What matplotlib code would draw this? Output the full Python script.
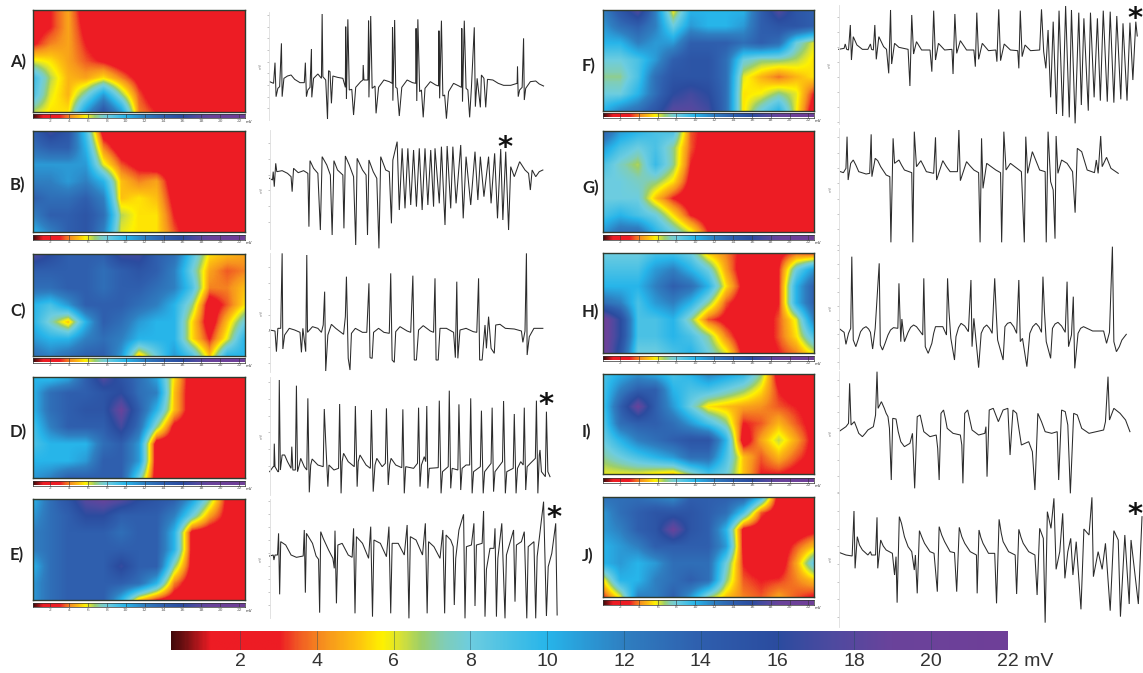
import numpy as np
import matplotlib
matplotlib.use('Agg')
import matplotlib.pyplot as plt
from matplotlib.colors import LinearSegmentedColormap

W, H = 1143, 673

# colour scale, mV -> colour
scale_mv = [0, 0.5, 1.2, 3.0, 3.5, 4.2, 5.0, 5.7, 6.2, 6.7, 7.3, 8.0, 10.0, 11.0, 12.0, 14.0, 16.0, 17.5, 19.0, 22.0]
scale_col = ['#2a0606', '#6e1012', '#ed1c24', '#ed1c24', '#f15a24', '#f7941e', '#fdc010', '#fff200', '#d4e03a',
             '#9ccf6a', '#80cdb8', '#6dcde0', '#27b5ea', '#2b9ad6', '#2f7fc1', '#2f5fae', '#2b4c9f', '#4f4aa0',
             '#6a439b', '#6f3f98']
main_ticks = [2, 4, 6, 8, 10, 12, 14, 16, 18, 20]

# voltage maps, 7 rows x 13 columns, mV
map_a = [[2.2, 3.0, 4.5, 2, 1.5, 1.4, 1.5, 1.6, 1.8, 2, 2, 2, 2],
         [2.2, 3.0, 4.5, 2.5, 1.5, 1.3, 1.4, 1.5, 1.8, 2, 2, 2, 2],
         [2.8, 4.0, 4.5, 3, 2, 1.8, 1.7, 1.8, 2, 2, 2, 2, 2],
         [6, 5.5, 4.5, 3.5, 2.8, 2, 1.6, 1.9, 2, 2, 2, 2, 2],
         [9.5, 6.5, 4.8, 4.5, 5.5, 4, 2.5, 2, 2, 2, 2, 2, 2],
         [9, 6, 4.8, 7.5, 11, 7, 3.5, 2, 2, 2, 2, 2, 2],
         [6.5, 5.5, 5.5, 11, 15, 11, 4, 3, 2, 2, 2, 2, 2]]
map_b = [[14, 17, 15, 9, 2, 2, 2, 2, 2, 2, 2, 2, 2],
         [13, 14, 14, 10, 4, 2, 2, 2, 2, 2, 2, 2, 2],
         [11, 11, 11, 11, 6, 3.5, 2.5, 2, 2, 1.6, 2, 2, 2],
         [12, 12, 11, 12, 10, 5, 4, 4.5, 2, 1.8, 2, 2, 2],
         [14, 13, 13, 14, 12, 5, 5.5, 5, 2.5, 2, 2, 2, 2],
         [12, 14, 14, 15, 13, 6.5, 5.5, 5.5, 3, 2, 2, 2, 2],
         [10, 12, 14, 15, 12, 6, 5.5, 5.5, 3.5, 2, 2, 2, 2]]
map_c = [[18, 16, 14, 14, 14, 17, 17, 14, 13, 9, 5.5, 5, 4.5],
         [14, 14, 14, 14, 13, 14, 15, 14, 12, 8, 4.5, 3.5, 4],
         [13, 13, 14, 14, 13, 14, 14, 13, 12, 9, 4, 4, 5],
         [10, 9, 11, 14, 14, 14, 13, 12, 10, 7, 2, 3.5, 5.5],
         [10, 7.5, 5, 10, 14, 13, 11, 10, 10, 5.5, 2, 5, 8],
         [11, 10, 10, 12, 13, 12, 10, 10, 10, 5.5, 3, 6, 10],
         [13, 12, 13, 14, 14, 11, 5, 8, 11, 9, 5, 10, 10]]
map_d = [[10, 9, 10, 14, 18, 15, 13, 10.5, 5.5, 2, 2, 2, 2],
         [10, 13, 14, 14, 15, 16, 13, 12, 5, 2, 2, 2, 2],
         [10, 13, 14, 15, 15, 19, 14, 10, 5, 2, 2, 2, 2],
         [9, 12, 14, 14, 14, 17, 13, 7, 2.5, 2, 2, 2, 2],
         [9, 10, 10, 10, 13, 14, 11, 2, 2, 2, 2, 2, 1.8],
         [10, 10, 10, 11, 14, 14, 11, 2, 2, 2, 2, 2, 1.6],
         [11, 12, 14, 14, 14, 14, 8, 2, 2, 2, 2, 2, 2]]
map_e = [[10, 13, 15, 18, 19, 18, 16, 15, 14, 11, 7, 2.5, 2],
         [11, 13, 14, 16, 16, 14, 14, 14, 12, 8, 4.5, 2.5, 2],
         [12, 13, 14, 14, 14, 13, 14, 14, 10, 2.5, 2, 2, 2],
         [12, 13, 14, 14, 14, 14, 14, 14, 10, 2.5, 2, 2, 2],
         [10, 13, 14, 14, 14, 16.5, 14, 14, 7, 2.5, 2, 2, 2],
         [11, 13, 14, 14, 14, 14, 13, 10, 4, 2, 2, 2, 2],
         [11, 13, 14, 14, 14, 10, 5, 3, 2, 2, 2, 2, 2]]
map_f = [[12, 15, 18, 12, 5.5, 10, 10, 10, 10, 14, 18, 15, 14],
         [11, 13, 14, 12, 8, 11, 10, 10, 11, 14, 15, 15, 14],
         [10, 10, 12, 11, 11, 14, 14, 14, 13, 14, 13, 8, 6],
         [8, 8, 9, 11, 14, 15, 15, 13, 8, 7, 7, 6.5, 5.5],
         [7, 7, 9, 13, 15, 15, 15, 13, 6, 4.8, 3.8, 4.8, 5.5],
         [8, 8, 10, 13, 16, 17, 16, 13, 5.5, 5.8, 7, 6, 3],
         [10, 12, 13, 15, 18, 18, 17, 13, 5.5, 8, 10, 5.8, 2]]
map_g = [[14, 11, 10, 9, 9, 3.5, 2.5, 2, 2, 2, 2, 2, 2],
         [11, 9, 8, 9, 7, 3.5, 2, 2, 2, 2, 2, 2, 2],
         [9, 7.5, 6.5, 9.5, 7, 3, 2, 2, 2, 2, 2, 2, 2],
         [8, 8, 7.5, 7, 5.5, 2.5, 2, 2, 2, 2, 2, 2, 2],
         [8, 8, 8, 5, 3, 2, 2, 2, 2, 2, 2, 2, 2],
         [9, 10, 9, 8, 5.5, 3, 2, 2, 2, 2, 2, 2, 2],
         [11, 13, 13, 10, 8, 6, 3, 2, 1.8, 2, 2, 2, 2]]
map_h = [[8, 8, 8, 9, 9, 8, 5, 4, 2.5, 2, 2.5, 3.5, 3],
         [9, 9, 9, 11, 12, 10, 8, 4.5, 2, 2, 3, 8, 11],
         [10, 10, 10, 12, 14, 13, 10, 5.5, 2.5, 2, 3, 10, 14],
         [13, 12, 9, 11, 12, 10, 7, 3.5, 2, 2, 3, 10, 14],
         [20, 16, 9, 9, 10, 7, 3.5, 2.5, 2, 2, 3.5, 6, 12],
         [20, 16, 9, 9, 10, 9, 7, 4, 2, 2, 3.5, 5.5, 9],
         [20, 15, 8, 8, 9, 10, 8, 6, 2.5, 2, 3, 4, 6]]
map_i = [[9, 10, 11, 10, 9, 10, 12, 11, 10, 7, 2, 2, 2],
         [9, 12, 14, 14, 10, 9, 9, 8, 7, 5.5, 3, 2, 2],
         [9, 14, 19, 14, 11, 8, 5.5, 5, 4.5, 4.2, 3.5, 3, 2.5],
         [8.5, 13, 14, 14, 13, 11, 9, 7, 3, 3.5, 4.8, 3.5, 2.5],
         [8, 10, 12, 13, 14, 15, 15, 10, 2, 4.5, 6.4, 4.5, 2.5],
         [7, 8, 9, 10, 11, 13, 13, 9, 5, 3.5, 4.8, 3.5, 2.5],
         [6, 6, 6, 5.5, 5, 7, 9, 8, 5, 3, 3, 2.5, 2]]
map_j = [[13, 13, 13, 12, 11, 14, 14, 14, 14, 10, 2, 2, 2],
         [11, 13, 14, 15, 15, 15, 14, 13, 9, 3.5, 2, 2, 2],
         [11, 12, 14, 15, 19, 15, 14, 10, 2.5, 2, 2, 2, 2.5],
         [10, 11, 12, 14, 14, 14, 14, 11, 2.5, 2, 2, 3.5, 5],
         [10, 11, 10, 11, 13, 13, 13, 8, 3, 2, 2, 4.5, 8.5],
         [5.5, 10, 10, 12, 13, 14, 13, 7, 3.5, 3, 3.2, 4, 5],
         [3, 6, 12, 12, 14, 11, 7, 5, 4, 3.5, 4.5, 3.5, 2.8]]

# ECG traces, (time, level) in arbitrary sweep units, level grows downward
ecg_a = [(755,245),(766,250),(770,188),(773,290),(778,265),(783,260),(788,130),(790,290),(795,235),(805,228),(815,225),(825,238),(840,248),(852,248),(855,188),(858,290),(862,270),(868,262),(872,147),(873,292),(878,235),(890,222),(900,235),(902,42),(904,230),(912,240),(917,357),(920,212),(924,215),(928,310),(932,228),(945,232),(960,235),(967,262),(968,80),(970,297),(974,58),(978,270),(985,268),(990,345),(996,262),(1010,245),(1016,240),(1017,195),(1019,240),(1030,240),(1032,62),(1033,292),(1038,48),(1042,265),(1050,258),(1053,340),(1060,262),(1075,240),(1090,245),(1098,250),(1099,82),(1100,302),(1105,60),(1108,262),(1112,265),(1118,348),(1125,262),(1140,240),(1155,248),(1164,250),(1165,85),(1167,303),(1170,58),(1175,275),(1180,270),(1185,352),(1190,265),(1205,245),(1220,255),(1228,258),(1229,92),(1231,295),(1236,62),(1240,288),(1245,285),(1250,356),(1256,275),(1270,250),(1285,258),(1292,262),(1293,85),(1295,305),(1300,62),(1305,265),(1310,270),(1315,352),(1320,262),(1328,82),(1331,320),(1336,235),(1345,322),(1348,225),(1355,235),(1360,322),(1365,238),(1380,240),(1395,250),(1410,256),(1430,256),(1448,250),(1449,200),(1451,290),(1455,270),(1462,262),(1466,115),(1468,300),(1472,265),(1485,245),(1500,243),(1510,252),(1522,258)]
ecg_b = [(755,535),(763,540),(765,515),(768,560),(772,490),(775,515),(790,512),(805,520),(815,530),(818,575),(822,505),(835,518),(850,512),(862,520),(865,680),(868,482),(878,505),(890,520),(897,690),(902,470),(915,495),(925,525),(930,705),(935,482),(945,510),(960,525),(963,685),(967,468),(978,495),(990,530),(996,735),(1000,475),(1015,510),(1025,525),(1029,705),(1033,480),(1045,515),(1055,535),(1061,745),(1066,470),(1080,510),(1090,515),(1096,670),(1100,480),(1112,425),(1118,630),(1126,445),(1134,625),(1142,445),(1150,615),(1158,450),(1166,620),(1174,445),(1182,630),(1190,445),(1198,615),(1206,450),(1214,620),(1218,445),(1230,610),(1236,440),(1246,675),(1252,438),(1262,625),(1268,440),(1277,610),(1290,435),(1297,655),(1305,470),(1318,615),(1330,455),(1338,600),(1345,470),(1355,590),(1368,470),(1375,610),(1385,460),(1393,655),(1402,447),(1408,660),(1416,455),(1424,690),(1430,500),(1440,530),(1455,485),(1470,510),(1480,520),(1485,570),(1490,510),(1500,530),(1510,515),(1520,510)]
ecg_c = [(755,255),(770,258),(774,320),(778,250),(786,250),(790,25),(792,312),(797,270),(810,250),(825,255),(840,262),(844,322),(848,250),(856,320),(859,30),(861,262),(875,245),(890,250),(900,262),(905,240),(909,140),(912,378),(918,270),(928,238),(940,250),(962,268),(967,215),(970,95),(975,340),(980,375),(984,265),(995,250),(1015,262),(1027,262),(1033,115),(1036,338),(1042,340),(1046,262),(1060,250),(1075,262),(1090,265),(1094,85),(1098,345),(1104,352),(1108,260),(1120,245),(1140,258),(1150,262),(1156,92),(1160,345),(1166,345),(1172,255),(1185,242),(1205,258),(1214,262),(1218,100),(1221,345),(1227,345),(1232,250),(1250,250),(1270,262),(1275,338),(1279,110),(1282,340),(1288,255),(1305,250),(1325,260),(1335,262),(1340,100),(1343,345),(1350,345),(1358,240),(1362,310),(1368,215),(1375,310),(1384,325),(1388,240),(1400,238),(1415,250),(1440,252),(1460,258),(1464,292),(1470,258),(1474,25),(1476,330),(1482,275),(1495,250),(1520,250)]
ecg_d = [(755,680),(765,665),(767,665),(768,596),(770,665),(778,680),(780,680),(782,405),(785,675),(790,630),(797,630),(805,650),(815,670),(817,605),(820,675),(827,675),(830,422),(833,680),(838,660),(842,640),(852,665),(859,675),(862,460),(866,742),(870,660),(874,642),(890,660),(905,665),(908,492),(912,590),(918,725),(921,660),(935,675),(948,670),(951,477),(955,745),(958,650),(962,625),(975,650),(992,665),(995,483),(1000,725),(1003,650),(1008,630),(1025,660),(1037,670),(1040,495),(1045,740),(1050,660),(1055,640),(1070,665),(1079,655),(1082,490),(1087,720),(1091,660),(1095,640),(1108,660),(1125,668),(1128,493),(1132,745),(1136,665),(1158,670),(1169,655),(1172,488),(1176,725),(1180,660),(1188,635),(1192,650),(1195,483),(1198,730),(1202,670),(1227,668),(1230,467),(1235,745),(1239,680),(1255,665),(1258,437),(1262,730),(1266,670),(1282,675),(1285,478),(1290,735),(1294,670),(1305,660),(1315,660),(1318,460),(1322,745),(1326,680),(1345,665),(1348,497),(1353,745),(1357,680),(1375,655),(1378,488),(1382,740),(1386,680),(1407,650),(1410,468),(1415,745),(1419,680),(1437,670),(1440,507),(1445,745),(1449,670),(1458,650),(1465,660),(1468,488),(1472,735),(1476,665),(1485,655),(1499,640),(1502,467),(1506,745),(1510,630),(1512,615),(1516,680),(1527,695),(1530,500),(1534,680),(1540,695)]
ecg_e = [(755,228),(765,225),(767,240),(770,225),(777,225),(780,160),(783,343),(786,185),(800,195),(815,225),(830,232),(849,228),(852,150),(855,338),(858,160),(875,190),(885,228),(892,238),(895,398),(898,155),(905,175),(920,210),(932,235),(936,265),(938,152),(942,370),(946,195),(958,190),(975,225),(986,232),(990,145),(994,400),(998,170),(1015,190),(1032,235),(1038,140),(1043,410),(1047,180),(1065,190),(1082,230),(1089,140),(1094,400),(1098,190),(1115,190),(1132,225),(1140,135),(1145,415),(1149,170),(1165,180),(1183,225),(1191,130),(1196,400),(1200,185),(1215,200),(1232,235),(1240,150),(1245,400),(1249,165),(1262,180),(1269,200),(1272,375),(1276,235),(1285,150),(1298,103),(1302,415),(1306,200),(1320,195),(1327,130),(1330,378),(1334,195),(1350,190),(1354,93),(1358,410),(1362,268),(1372,205),(1383,205),(1386,145),(1390,410),(1394,235),(1405,130),(1414,415),(1418,225),(1438,150),(1442,365),(1446,195),(1460,185),(1468,155),(1475,415),(1479,200),(1495,185),(1500,415),(1504,230),(1522,65),(1530,408),(1535,260),(1545,220),(1556,130),(1560,405)]
ecg_f = [(735,148),(750,145),(753,132),(757,148),(762,150),(767,75),(770,180),(775,110),(785,135),(800,148),(815,148),(822,132),(825,148),(830,150),(834,75),(838,178),(845,110),(858,140),(866,148),(872,220),(877,30),(880,192),(888,130),(900,142),(925,148),(930,258),(935,45),(940,162),(948,125),(962,150),(985,150),(990,215),(995,32),(1000,180),(1008,130),(1025,150),(1045,148),(1048,222),(1053,42),(1058,160),(1068,122),(1085,150),(1105,150),(1109,200),(1113,38),(1118,178),(1128,130),(1145,152),(1165,150),(1168,185),(1173,28),(1178,182),(1188,132),(1205,150),(1225,152),(1228,205),(1232,32),(1237,170),(1245,135),(1260,152),(1285,150),(1290,28),(1296,155),(1302,205),(1308,90),(1315,292),(1322,65),(1331,342),(1338,32),(1348,348),(1356,18),(1366,352),(1372,30),(1382,370),(1392,38),(1399,315),(1406,55),(1418,332),(1424,38),(1434,292),(1443,55),(1451,302),(1459,32),(1470,305),(1478,35),(1488,308),(1496,48),(1507,298),(1513,70),(1524,302),(1532,68),(1540,240),(1548,65),(1552,108)]
ecg_g = [(740,515),(748,518),(755,505),(758,410),(761,540),(768,490),(775,480),(782,495),(790,515),(810,522),(820,520),(824,403),(826,530),(835,475),(842,482),(850,500),(865,525),(875,530),(878,727),(884,415),(888,490),(900,480),(907,495),(915,510),(935,518),(938,727),(942,395),(948,500),(960,482),(967,497),(975,515),(995,520),(1000,412),(1003,540),(1020,482),(1030,500),(1040,515),(1060,515),(1064,390),(1068,542),(1085,485),(1095,498),(1105,510),(1118,518),(1122,727),(1126,415),(1130,565),(1140,490),(1165,510),(1178,518),(1181,727),(1187,395),(1193,510),(1205,490),(1235,515),(1243,727),(1247,410),(1252,520),(1265,455),(1285,510),(1300,515),(1303,727),(1308,395),(1315,545),(1322,570),(1327,716),(1330,408),(1335,520),(1345,480),(1360,490),(1375,515),(1382,638),(1388,445),(1400,455),(1415,510),(1435,518),(1440,480),(1445,520),(1452,408),(1456,500),(1468,472),(1480,505),(1500,520)]
ecg_h = [(738,252),(750,262),(755,298),(762,265),(768,250),(771,35),(775,285),(782,305),(788,285),(795,260),(802,250),(810,245),(817,252),(822,262),(828,312),(835,250),(846,55),(849,300),(855,315),(862,295),(870,270),(877,255),(885,248),(897,250),(900,115),(905,290),(908,222),(915,290),(925,262),(932,247),(940,240),(948,245),(955,255),(965,270),(968,100),(972,305),(980,325),(990,295),(995,265),(1000,245),(1020,245),(1030,270),(1033,100),(1037,200),(1042,280),(1052,345),(1056,275),(1063,248),(1070,235),(1080,243),(1090,260),(1097,105),(1100,305),(1105,220),(1118,368),(1125,265),(1132,248),(1140,240),(1148,250),(1155,265),(1162,100),(1166,200),(1170,285),(1185,345),(1190,245),(1197,235),(1205,232),(1214,245),(1222,265),(1228,105),(1232,290),(1238,280),(1250,365),(1258,265),(1266,245),(1275,235),(1283,245),(1290,262),(1294,95),(1298,198),(1303,290),(1315,340),(1320,250),(1327,237),(1335,232),(1345,243),(1355,262),(1360,110),(1364,305),(1372,270),(1377,155),(1381,370),(1390,265),(1397,250),(1405,245),(1430,258),(1460,258),(1468,295),(1476,262),(1484,5),(1488,290),(1495,320),(1503,305),(1510,285),(1522,268)]
ecg_i = [(738,558),(755,545),(762,535),(765,415),(769,540),(778,530),(785,550),(790,565),(800,575),(808,565),(815,555),(830,545),(836,510),(840,380),(843,490),(852,470),(860,490),(865,505),(870,515),(874,550),(879,705),(883,520),(892,522),(898,560),(905,590),(915,605),(930,595),(937,565),(943,730),(950,515),(958,510),(963,535),(968,560),(985,575),(1002,570),(1006,610),(1010,705),(1015,505),(1022,495),(1027,520),(1032,550),(1048,565),(1068,570),(1072,600),(1075,715),(1080,505),(1088,495),(1094,525),(1100,555),(1118,570),(1135,565),(1138,545),(1141,695),(1147,495),(1158,490),(1172,530),(1185,495),(1198,490),(1204,630),(1212,495),(1222,505),(1228,550),(1235,600),(1255,590),(1265,620),(1272,735),(1280,505),(1290,530),(1300,560),(1318,565),(1333,560),(1337,705),(1345,495),(1355,500),(1362,540),(1369,745),(1378,505),(1388,510),(1394,530),(1400,550),(1420,565),(1460,555),(1465,530),(1472,395),(1476,525),(1488,490),(1505,505),(1520,525),(1532,560)]
ecg_j = [(738,218),(755,225),(772,228),(777,93),(780,265),(786,170),(792,195),(800,210),(815,225),(822,215),(825,225),(836,225),(840,112),(842,265),(850,180),(857,198),(865,210),(882,220),(888,285),(892,230),(895,368),(901,110),(907,130),(915,170),(925,200),(935,215),(942,270),(945,225),(950,340),(956,152),(963,172),(970,190),(985,215),(996,220),(1000,270),(1005,335),(1010,140),(1017,165),(1025,185),(1040,215),(1052,218),(1058,335),(1065,142),(1072,170),(1080,190),(1095,215),(1112,225),(1114,340),(1119,150),(1124,172),(1130,190),(1145,220),(1162,220),(1167,370),(1174,118),(1180,160),(1185,185),(1200,215),(1218,225),(1222,342),(1228,148),(1234,172),(1240,190),(1255,215),(1272,225),(1278,345),(1285,145),(1295,175),(1300,428),(1306,95),(1316,145),(1324,55),(1330,268),(1340,215),(1348,100),(1354,295),(1362,215),(1370,175),(1376,285),(1385,185),(1398,388),(1406,147),(1420,165),(1428,52),(1432,290),(1445,215),(1456,268),(1465,190),(1478,392),(1488,152),(1500,180),(1506,410),(1518,165),(1530,372),(1535,180),(1555,372),(1565,110)]

cmap = LinearSegmentedColormap.from_list('mv', [(v / 22, c) for v, c in zip(scale_mv, scale_col)], N=512)


def px_axes(left, top, right, bottom):
    return fig.add_axes([left / W, 1 - bottom / H, (right - left) / W, (bottom - top) / H])


def mini_bar(left, right, top, bottom):
    ax = px_axes(left, top, right, bottom)
    vals = np.linspace(0.2, 22.6, 240)[None, :]
    ax.imshow(vals, cmap=cmap, vmin=0, vmax=22, aspect='auto', extent=(0.2, 22.6, 0, 1))
    ax.set_yticks([])
    ax.set_xticks(list(range(2, 24, 2)))
    ax.set_xticklabels([str(v) for v in range(2, 24, 2)], fontsize=3.2, color='#666666')
    ax.tick_params(axis='x', length=0, pad=0.6)
    for v in range(2, 24, 2):
        ax.axvline(v, color='#333333', lw=0.4)
    for s in ax.spines.values():
        s.set_linewidth(0.5)
        s.set_color('#333333')
    ax.text(23.0, -0.42, 'mV', fontsize=2.8, color='#333333', ha='center', va='top', clip_on=False)


def voltage_map(grid, left, right, top, bottom):
    ax = px_axes(left, top, right, bottom)
    ax.imshow(np.array(grid, dtype=float), cmap=cmap, vmin=0, vmax=22, aspect='auto',
              interpolation='bilinear', interpolation_stage='data', extent=(-0.5, 12.5, 6.5, -0.5))
    ax.set_xlim(0, 12)
    ax.set_ylim(6, 0)
    ax.set_xticks([])
    ax.set_yticks([])
    for s in ax.spines.values():
        s.set_linewidth(1.0)
        s.set_color('#2f3b2f')


def ecg_trace(points, ox, oy, sx, axis_t, tick_start, tick_stop, tick_step, ax_top, ax_bot):
    t, v = np.array(points, dtype=float).T
    t1 = t.max()
    ax = px_axes(ox + axis_t / sx, oy + ax_top / 3, ox + t1 / sx, oy + ax_bot / 3)
    ax.patch.set_alpha(0)
    ax.plot(t, v, color='#2b2b2b', lw=0.75, solid_joinstyle='miter', clip_on=False)
    ax.set_xlim(axis_t, t1)
    ax.set_ylim(ax_bot, ax_top)
    ax.set_xticks([])
    ax.set_yticks(np.arange(tick_start, tick_stop + 1, tick_step))
    ax.set_yticklabels([])
    ax.tick_params(axis='y', length=1.5, width=0.4, color='#999999')
    for name in ['top', 'right', 'bottom']:
        ax.spines[name].set_visible(False)
    ax.spines['left'].set_color('#dddddd')
    ax.spines['left'].set_linewidth(0.6)
    ax.text(-0.03, 0.5, 'mV', rotation=90, fontsize=2.6, color='#888888', transform=ax.transAxes,
            ha='center', va='center')


fig = plt.figure(figsize=(W / 100, H / 100), dpi=100, facecolor='white')
overlay = fig.add_axes([0, 0, 1, 1])
overlay.set_xlim(0, W)
overlay.set_ylim(H, 0)
overlay.axis('off')
overlay.set_zorder(10)
overlay.patch.set_alpha(0)

# left column
left_maps = [(map_a, 10, 112, 113.5, 118), (map_b, 131, 232, 235, 239.5), (map_c, 254, 356, 358, 362.5),
             (map_d, 377, 478, 481, 485.5), (map_e, 499, 600, 602.5, 607)]
for grid, top, bottom, b0, b1 in left_maps:
    voltage_map(grid, 33, 245, top, bottom)
    mini_bar(33, 245, b0, b1)

# right column
right_maps = [(map_f, 9.5, 111, 113, 117.5), (map_g, 131, 232, 235, 239.5), (map_h, 253, 353, 356, 360.5),
              (map_i, 374, 474, 478, 482.5), (map_j, 497, 597, 600, 604.5)]
for grid, top, bottom, b0, b1 in right_maps:
    voltage_map(grid, 603, 814, top, bottom)
    mini_bar(603, 814, b0, b1)

ecg_trace(ecg_a, 0, 0, 2.8, 752, 45, 357, 35, 35, 360)
ecg_trace(ecg_b, 0, 0, 2.8, 755, 430, 705, 47, 390, 748)
ecg_trace(ecg_c, 0, 245, 2.8, 755, 65, 355, 48, 25, 380)
ecg_trace(ecg_d, 0, 245, 2.8, 757, 412, 710, 50, 395, 750)
ecg_trace(ecg_e, 0, 480, 2.8, 755, 63, 378, 39, 58, 415)
ecg_trace(ecg_f, 570, 0, 2.736, 735, 50, 368, 45, 15, 372)
ecg_trace(ecg_g, 570, 0, 2.736, 737, 412, 745, 46, 385, 748)
ecg_trace(ecg_h, 570, 245, 2.736, 737, 15, 355, 42, 3, 372)
ecg_trace(ecg_i, 570, 245, 2.736, 737, 405, 745, 48, 378, 748)
ecg_trace(ecg_j, 570, 480, 2.736, 737, 40, 420, 53, 35, 440)

# panel letters
panel_letters = ['A)', 'B)', 'C)', 'D)', 'E)', 'F)', 'G)', 'H)', 'I)', 'J)']
letter_x = [10, 10, 10, 10, 10, 582, 582, 582, 582, 582]
letter_y = [62, 185, 311, 432, 555, 66, 188, 312, 432, 556]
for s, x, y in zip(panel_letters, letter_x, letter_y):
    overlay.text(x, y, s, fontsize=12, fontweight='bold', family='Lato', color='#222222', ha='left', va='center')

# asterisks on the marked runs
star_x = [505, 546, 554, 1135, 1135]
star_y = [143, 400, 513, 14, 510]
for x, y in zip(star_x, star_y):
    overlay.text(x, y + 5, '*', fontsize=21, fontweight='bold', family='DejaVu Sans', color='#111111',
                 ha='center', va='center')

# shared colour scale
main = px_axes(171, 631, 1008, 650)
main.imshow(np.linspace(0.2, 22, 600)[None, :], cmap=cmap, vmin=0, vmax=22, aspect='auto', extent=(0.2, 22, 0, 1))
main.set_yticks([])
main.set_xticks(main_ticks)
main.set_xticklabels([str(v) for v in main_ticks], fontsize=14, color='#333333', family='Liberation Sans')
main.tick_params(axis='x', length=0, pad=2)
for v in main_ticks:
    main.axvline(v, color='#1d4a5a', lw=0.5, alpha=0.6)
for s in main.spines.values():
    s.set_visible(False)
overlay.text(997, 662, '22 mV', fontsize=14, color='#333333', family='Liberation Sans', ha='left', va='center')

fig.savefig('out.png', dpi=100)
